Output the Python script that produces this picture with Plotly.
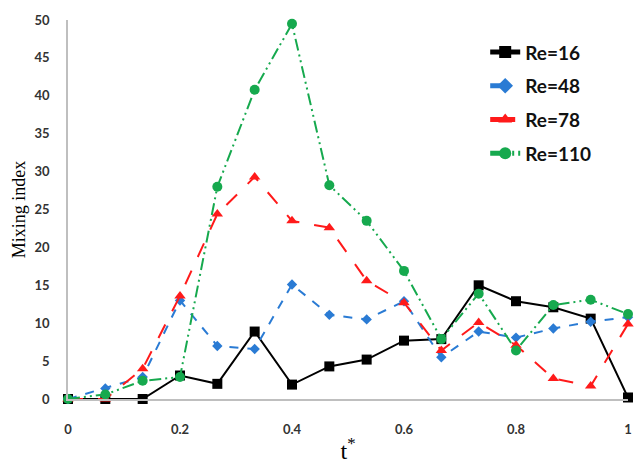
import plotly.graph_objects as go

t_star = [0, 1/15, 2/15, 3/15, 4/15, 5/15, 6/15, 7/15, 8/15, 9/15, 10/15, 11/15, 12/15, 13/15, 14/15, 1.0]
re16 = [0, 0, 0, 3.1, 2.0, 8.9, 1.9, 4.3, 5.2, 7.7, 7.9, 15.0, 12.9, 12.1, 10.6, 0.2]
re48 = [0, 1.4, 2.9, 13.0, 7.0, 6.6, 15.1, 11.1, 10.5, 12.9, 5.5, 8.9, 8.1, 9.3, 10.2, 10.8]
re78 = [0, 0, 4.0, 13.6, 24.4, 29.3, 23.5, 22.6, 15.6, 12.7, 6.4, 10.1, 7.1, 2.7, 1.7, 9.9]
re110 = [0, 0.6, 2.4, 2.9, 28.0, 40.8, 49.5, 28.2, 23.5, 16.9, 7.9, 13.9, 6.4, 12.4, 13.1, 11.2]
x_ticks = [0, 0.2, 0.4, 0.6, 0.8, 1]
x_ticktext = ["0", "0.2", "0.4", "0.6", "0.8", "1"]

series = [
    ("Re=16", re16, "#000000", "solid", "square", 10),
    ("Re=48", re48, "#2a7bd4", "dash", "diamond", 8),
    ("Re=78", re78, "#ff1a1a", "longdash", "triangle-up", 10),
    ("Re=110", re110, "#16a94e", "12px,4px,2px,4px,2px,4px", "circle", 10),
]

fig = go.Figure()
for i, (name, ys, col, dash, sym, sz) in enumerate(series):
    fig.add_trace(go.Scatter(
        x=t_star, y=ys, name=name, mode="lines+markers", legendgroup=f"g{i}",
        line=dict(color=col, width=2, dash=dash),
        marker=dict(symbol=sym, size=sz, color=col),
        cliponaxis=False,
    ))

fig.update_layout(
    width=634, height=464,
    margin=dict(l=68, r=2, t=20, b=62),
    plot_bgcolor="white", paper_bgcolor="white",
    showlegend=True,
    legend=dict(x=0.745, y=0.965, xanchor="left", yanchor="top",
                font=dict(family="Lato", size=19, color="#111111", weight="bold"),
                bgcolor="rgba(0,0,0,0)", tracegroupgap=6, itemwidth=30,
                itemsizing="constant"),
    font=dict(family="Lato", color="#333333"),
)
fig.update_xaxes(
    range=[0, 1], tickvals=x_ticks, ticktext=x_ticktext,
    showgrid=False, zeroline=False, showline=True, linecolor="#bfbfbf", linewidth=1.5,
    ticks="", ticklabelstandoff=18, ticklabeloverflow="allow",
    tickfont=dict(family="Lato", size=13, color="#333333", weight="bold"),
    title=dict(text="t<sup>*</sup>", font=dict(family="Liberation Serif", size=24, color="#000000"), standoff=8),
)
fig.update_yaxes(
    range=[0, 50], tickvals=list(range(0, 51, 5)),
    showgrid=False, zeroline=False, showline=True, linecolor="#bfbfbf", linewidth=1.5,
    ticks="", ticklabelstandoff=14,
    tickfont=dict(family="Lato", size=13, color="#333333", weight="bold"),
    title=dict(text="Mixing index", font=dict(family="Liberation Serif", size=18, color="#000000"), standoff=4),
)
fig.write_html("out.html")
